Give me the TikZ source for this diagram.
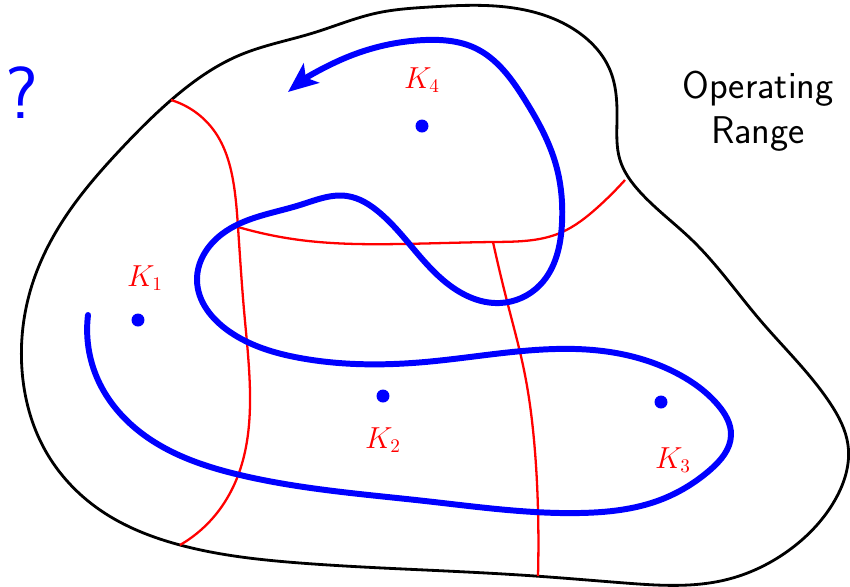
\documentclass[tikz,border=0pt]{standalone}
\usetikzlibrary{arrows.meta,hobby}
\begin{document}
\begin{tikzpicture}[x=0.02cm,y=-0.02cm,
  boundary/.style={draw=black,line width=1.6pt},
  region/.style={draw=red,line width=1.3pt},
  traj/.style={draw=blue,line width=3.4pt,line cap=round},
  gain/.style={circle,fill=blue,inner sep=0pt,minimum size=0.26cm},
  klabel/.style={text=red,inner sep=0pt,font=\fontsize{16}{19}\selectfont}]
\useasboundingbox (0,0) rectangle (850,586);
% operating range boundary
\draw[boundary] plot[closed hobby] coordinates {
 (170,101) (240,55) (313,33) (377,13) (430,7) (525,10) (578,32)
 (610,70) (617,120) (620,160) (640,192) (692,240) (760,320)
 (830,403) (848,445) (835,500) (792,548) (725,580) (625,583)
 (535,576) (425,570) (300,563) (180,545) (100,510) (45,450)
 (22,370) (32,285) (70,210) (120,150)};
% region borders
\draw[region] plot[hobby] coordinates {
 (171,100) (215,132) (233,180) (238,227) (244,310) (250,393)
 (240,470) (217,513) (180,545)};
\draw[region] plot[hobby] coordinates {
 (238,227) (300,240) (400,244) (493,242) (560,233) (598,207) (625,180)};
\draw[region] plot[hobby] coordinates {
 (493,242) (508,305) (524,370) (534,440) (538,510) (538,576)};
% trajectory
\draw[traj,-{Stealth[length=17pt,width=14pt,inset=4pt]}] plot[hobby] coordinates {
 (88,315) (98,380) (140,432) (240,475) (425,501)
 (580,513) (660,500) (710,470) (731,435) (718,405) (680,375)
 (610,352) (425,362) (300,358) (230,332)
 (197,280) (222,234) (300,205) (347,196) (380,213)
 (443,280) (500,303) (540,285) (562,223) (556,165)
 (525,100) (475,48) (425,40) (345,58) (288,92)};
% operating points
\node[gain] (k1) at (138,320) {};
\node[gain] (k2) at (383,396) {};
\node[gain] (k3) at (661,402) {};
\node[gain] (k4) at (422,126) {};
\node[klabel] (l1) at (145,278) {$K_1$};
\node[klabel] (l2) at (383,440) {$K_2$};
\node[klabel] (l3) at (673,460) {$K_3$};
\node[klabel] (l4) at (422,80) {$K_4$};
\node[align=center,font=\fontsize{22}{25.5}\selectfont\sffamily] (op) at (758,111) {Operating\\Range};
\node[text=blue,font=\fontsize{42}{44}\selectfont\sffamily] (q) at (22,93) {?};
\end{tikzpicture}
\end{document}
